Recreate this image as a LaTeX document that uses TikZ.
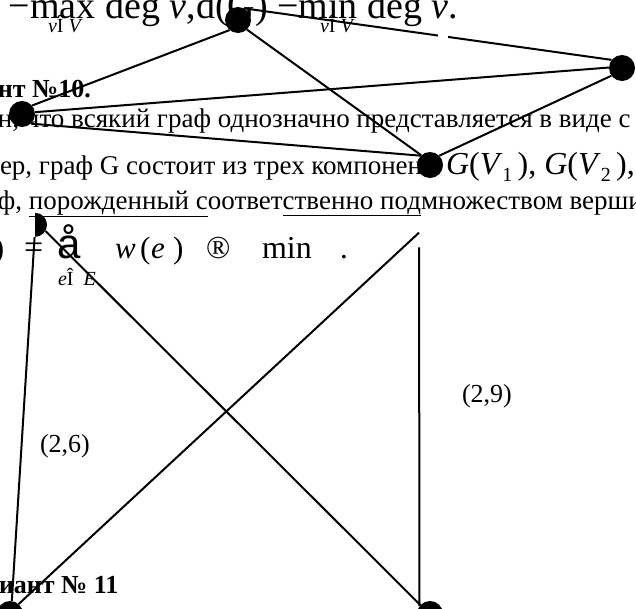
\documentclass[tikz,border=0pt]{standalone}
\usepackage{fontspec}
\setmainfont{Liberation Serif}
\newfontfamily\sansf{Liberation Sans}
\newcommand{\fs}[1]{\fontsize{#1}{#1}\selectfont}
\begin{document}
\begin{tikzpicture}[x=1pt,y=-1pt]
\tikzset{
  vtx/.style={circle, fill=black, draw=none, minimum size=26pt, inner sep=0pt},
  hidvtx/.style={circle, fill=white, draw=none, minimum size=26pt, inner sep=0pt},
  edge/.style={line width=2pt},
  txt/.style={anchor=base west, inner sep=0pt, outer sep=0pt, font=\fs{27}},
  bigtxt/.style={txt, font=\fs{38}},
  subtxt/.style={txt, font=\fs{20}},
  frm/.style={txt, font=\fs{31}},
  lbl/.style={txt, font=\fs{26}},
  head/.style={txt, font=\fs{26}\bfseries},
}
\useasboundingbox (0,0) rectangle (636,608);
% background text fragments
\node[bigtxt] (t0) at (9,18) {−max deg \textit{v},d(G) −min deg \textit{v}.};
\node[subtxt] (t0a) at (48,32) {\textit{v}Î \textit{V}};
\node[subtxt] (t0b) at (320,32) {\textit{v}Î \textit{V}};
\node[head] (t1) at (-2,97) {нт №10.};
\node[txt] (t2) at (-2,127) {н, что всякий граф однозначно представляется в виде с};
\node[txt] (t3) at (0,174) {ер, граф G состоит из трех компонен};
\node[txt, font=\fs{32}] (t3m) at (446,174) {\textit{G}(\textit{V}\raisebox{-7pt}{\fs{20}1}\,), \textit{G}(\textit{V}\raisebox{-7pt}{\fs{20}2}\,),};
\node[txt] (t4) at (-2,209) {ф, \underline{порожденный с}оответ\underline{ственно под}множеством вершин};
% formula line
\node[frm] (f0) at (-6,258) {)};
\node[frm, font=\fs{34}] (f1) at (24,258) {=};
\node[txt, font=\fs{42}\sansf] (f2) at (57,258) {å};
\node[frm] (f3) at (115,258) {\textit{w}};
\node[frm] (f4) at (140,258) {(};
\node[frm] (f5) at (151,258) {\textit{e}};
\node[frm] (f6) at (173,258) {)};
\node[frm, font=\fs{32}] (f7) at (206,258) {®};
\node[frm, font=\fs{32}] (f8) at (262,258) {min};
\node[frm] (f9) at (340,258) {.};
\node[subtxt] (f10) at (58,285) {\textit{e}Î \ \textit{E}};
% weight labels
\node[lbl] (w26) at (40,452) {(2,6)};
\node[lbl] (w29) at (462,402) {(2,9)};
\node[head] (t5) at (-1,593) {иант № 11};
% vertices
\node[vtx] (A) at (238,20) {};
\node[vtx] (B) at (622,68) {};
\node[vtx] (C) at (22,114) {};
\node[vtx] (D) at (430,165) {};
\node[circle, minimum size=24pt, inner sep=0pt] (E) at (35,225) {};
\node[vtx] (F) at (10,614) {};
\node[vtx] (G) at (430,614) {};
\node[hidvtx] (H) at (430,240) {};
% edges
\draw[edge] (A.62) -- (B.142);
\fill[white] (438,28) rectangle (448,40);
\draw[edge] (A.230) -- (C.40);
\draw[edge] (A.313) -- (D.132);
\draw[edge] (C.8) -- (B.178);
\draw[edge] (C.-47) -- (D.135);
\draw[edge] (B.216) -- (D.45);
\draw[edge] (E.-92) -- (F.82);
\draw[edge] (E.-30) -- (G.137);
\draw[edge] (H.146) -- (F.49);
\draw[edge] (H.214) -- (G.143);
\fill (E.north) arc[start angle=90, end angle=-90, radius=12pt] -- cycle;
\end{tikzpicture}
\end{document}
